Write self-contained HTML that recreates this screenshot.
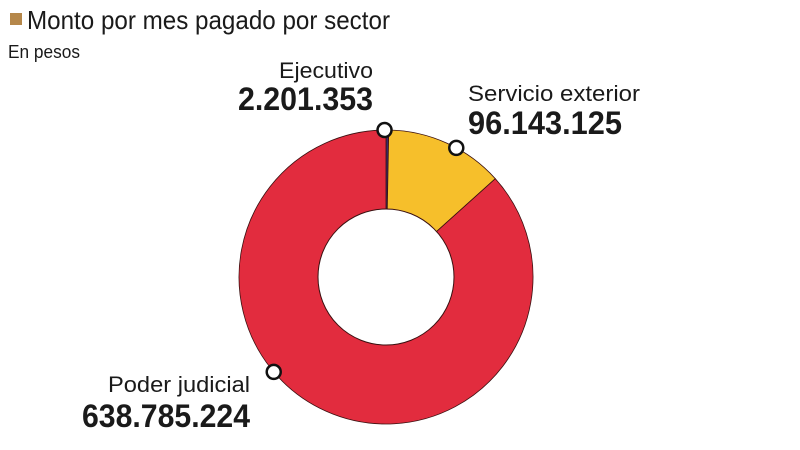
<!DOCTYPE html>
<html><head><meta charset="utf-8"><style>
html,body{margin:0;padding:0;background:#fff;width:800px;height:450px;overflow:hidden}
svg text{font-family:"Liberation Sans Narrow","Liberation Sans",sans-serif;fill:#1a1a1a}
</style></head><body>
<svg id="chart" width="800" height="450" viewBox="0 0 800 450">
<rect x="10" y="13" width="12" height="12" fill="#b5874a"/>
<text x="27" y="29" font-size="26" textLength="363" lengthAdjust="spacingAndGlyphs">Monto por mes pagado por sector</text>
<text x="8" y="58" font-size="18" textLength="72" lengthAdjust="spacingAndGlyphs">En pesos</text>
<g id="slices"></g>
<circle cx="386" cy="277" r="68" fill="#fff" stroke="#3a1010" stroke-width="1"/>
<g id="labels"></g>
</svg>
<script>
const categories = ["Ejecutivo", "Servicio exterior", "Poder judicial"];
const values = [2201353, 96143125, 638785224];
const valueLabels = ["2.201.353", "96.143.125", "638.785.224"];
const colors = ["#3b2a6b", "#f6bf2b", "#e22c3e"];

const cx = 386, cy = 277, R = 147, r = 68;
const NS = "http://www.w3.org/2000/svg";
const total = values.reduce((a, b) => a + b, 0);
function angleOf(v) { return v / total * Math.PI * 2; }
function pt(a, rad) { return [cx + rad * Math.sin(a), cy - rad * Math.cos(a)]; }

const gS = document.getElementById("slices");
const gL = document.getElementById("labels");
let acc = 0;
const mids = [], starts = [];
values.forEach((v, i) => {
  const a0 = angleOf(acc), a1 = angleOf(acc + v);
  acc += v;
  starts.push(a0); mids.push((a0 + a1) / 2);
  const large = a1 - a0 > Math.PI ? 1 : 0;
  const p0 = pt(a0, R), p1 = pt(a1, R);
  const path = document.createElementNS(NS, "path");
  path.setAttribute("d", `M${cx},${cy} L${p0[0]},${p0[1]} A${R},${R} 0 ${large} 1 ${p1[0]},${p1[1]} Z`);
  path.setAttribute("fill", colors[i]);
  path.setAttribute("stroke", "#3a1010");
  path.setAttribute("stroke-width", "0.8");
  
  
  gS.appendChild(path);
});

const dotAngles = [starts[0] - 0.01, mids[1] + 0.07, mids[2] + 0.45];
const labelPos = [
  {x: 373, y1: 78, y2: 110, anchor: "end", w1: 94, w2: 135},
  {x: 468, y1: 101, y2: 134, anchor: "start", w1: 172, w2: 154},
  {x: 250, y1: 392, y2: 427, anchor: "end", w1: 142, w2: 168}
];
categories.forEach((c, i) => {
  const p = pt(dotAngles[i], R);
  const dot = document.createElementNS(NS, "circle");
  dot.setAttribute("cx", p[0]); dot.setAttribute("cy", p[1]); dot.setAttribute("r", 7);
  dot.setAttribute("fill", "#fff"); dot.setAttribute("stroke", "#111"); dot.setAttribute("stroke-width", "2.5");
  
  
  gL.appendChild(dot);
  const L = labelPos[i];
  const t1 = document.createElementNS(NS, "text");
  t1.setAttribute("x", L.x); t1.setAttribute("y", L.y1); t1.setAttribute("font-size", "22");
  t1.setAttribute("text-anchor", L.anchor);
  t1.setAttribute("textLength", L.w1); t1.setAttribute("lengthAdjust", "spacingAndGlyphs");
  t1.textContent = c;
  
  
  gL.appendChild(t1);
  const t2 = document.createElementNS(NS, "text");
  t2.setAttribute("x", L.x); t2.setAttribute("y", L.y2); t2.setAttribute("font-size", "32");
  t2.setAttribute("font-weight", "bold"); t2.setAttribute("text-anchor", L.anchor);
  t2.setAttribute("textLength", L.w2); t2.setAttribute("lengthAdjust", "spacingAndGlyphs");
  t2.textContent = valueLabels[i];
  
  
  gL.appendChild(t2);
});
</script>
</body></html>
